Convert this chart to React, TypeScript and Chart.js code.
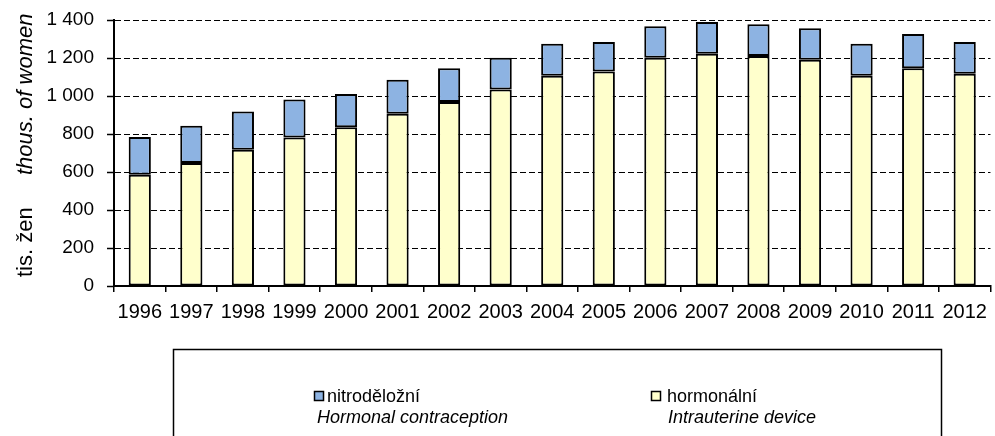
import React, { useEffect, useRef } from "react";
import { Chart, registerables } from "chart.js";

Chart.register(...registerables);

const years = ["1996", "1997", "1998", "1999", "2000", "2001", "2002", "2003", "2004", "2005", "2006", "2007", "2008", "2009", "2010", "2011", "2012"];
const hormonal = [585, 647, 717, 782, 835, 907, 969, 1034, 1106, 1129, 1201, 1222, 1210, 1191, 1106, 1146, 1117];
const intrauterine = [199, 197, 201, 199, 176, 178, 177, 167, 169, 155, 166, 167, 167, 165, 169, 180, 167];
const yTicks = [0, 200, 400, 600, 800, 1000, 1200, 1400];
const legendCz = ["nitroděložní", "hormonální"];
const legendEn = ["Hormonal contraception", "Intrauterine device"];
const yTitleCz = "tis. žen";
const yTitleEn = "thous. of women";

const FONT = '"Liberation Sans", Arial, sans-serif';
const BLUE = "#8DB3E2";
const YELLOW = "#FFFFCC";

const fmt = (v: number) => String(v).replace(/\B(?=(\d{3})+(?!\d))/g, " ");

const overlay = {
  id: "overlay",
  afterDraw(chart: any) {
    const ctx = chart.ctx as CanvasRenderingContext2D;
    // y-axis title
    ctx.save();
    ctx.translate(32, 277);
    ctx.rotate(-Math.PI / 2);
    ctx.fillStyle = "#000";
    ctx.textAlign = "left";
    ctx.textBaseline = "alphabetic";
    ctx.font = `22px ${FONT}`;
    ctx.fillText(yTitleCz, 0, 0);
    ctx.font = `italic 22px ${FONT}`;
    ctx.fillText(yTitleEn, 102, 0);
    ctx.restore();

    // legend box
    ctx.save();
    ctx.strokeStyle = "#000";
    ctx.lineWidth = 1.5;
    ctx.strokeRect(173.5, 349.5, 768, 100);
    const items = [
      { sq: 314, tx: 327, tx2: 317, color: BLUE },
      { sq: 651, tx: 667, tx2: 668, color: YELLOW },
    ];
    items.forEach((it, i) => {
      ctx.fillStyle = it.color;
      ctx.fillRect(it.sq, 391, 10, 10);
      ctx.strokeStyle = "#000";
      ctx.lineWidth = 1.5;
      ctx.strokeRect(it.sq + 0.5, 391.5, 9, 9);
      ctx.fillStyle = "#000";
      ctx.textAlign = "left";
      ctx.textBaseline = "middle";
      ctx.font = `18px ${FONT}`;
      ctx.fillText(legendCz[i], it.tx, 397);
      ctx.font = `italic 18px ${FONT}`;
      ctx.fillText(legendEn[i], it.tx2, 418);
    });
    ctx.restore();
  },
};

export default function App() {
  const ref = useRef<HTMLCanvasElement>(null);
  useEffect(() => {
    document.body.style.margin = "0";
    const chart = new Chart(ref.current!, {
      type: "bar",
      data: {
        labels: years,
        datasets: [
          {
            label: legendCz[1],
            data: hormonal,
            backgroundColor: YELLOW,
            borderColor: "#000",
            borderWidth: 2,
            borderSkipped: false,
            inflateAmount: 0,
            barPercentage: 0.43,
            categoryPercentage: 1,
          },
          {
            label: legendCz[0],
            data: intrauterine,
            backgroundColor: BLUE,
            borderColor: "#000",
            borderWidth: 2,
            borderSkipped: false,
            inflateAmount: 0,
            barPercentage: 0.43,
            categoryPercentage: 1,
          },
        ],
      },
      options: {
        responsive: false,
        animation: false,
        layout: { padding: { top: 20, right: 2, left: 0, bottom: 110 } },
        plugins: { legend: { display: false }, tooltip: { enabled: false } },
        scales: {
          x: {
            stacked: true,
            afterFit: (s: any) => {
              s.height = 40;
            },
            grid: {
              offset: true,
              drawOnChartArea: false,
              drawTicks: true,
              tickLength: 6,
              color: "#000",
              lineWidth: 1.5,
            },
            border: { color: "#000", width: 2 },
            ticks: {
              color: "#000",
              font: { family: FONT, size: 20 },
              maxRotation: 0,
              minRotation: 0,
              autoSkip: false,
              padding: 8,
            },
          },
          y: {
            stacked: true,
            min: 0,
            max: 1400,
            afterFit: (s: any) => {
              s.width = 114;
              s.paddingTop = 0;
            },
            afterBuildTicks: (s: any) => {
              s.ticks = yTicks.map((v) => ({ value: v }));
            },
            grid: {
              color: "#000",
              lineWidth: 1,
              tickLength: 7,
              tickColor: "#000",
              tickBorderDash: [],
              tickWidth: 1.5,
            },
            border: { color: "#000", width: 2, dash: [6, 3] },
            ticks: {
              color: "#000",
              font: { family: FONT, size: 19, lineHeight: 1 },
              padding: 13,
              callback: (v: any) => fmt(Number(v)),
            },
          },
        },
      },
      plugins: [overlay],
    });
    return () => chart.destroy();
  }, []);
  return (
    <div style={{ width: 995, height: 436 }}>
      <canvas ref={ref} width={995} height={436} style={{ display: "block" }} />
    </div>
  );
}
